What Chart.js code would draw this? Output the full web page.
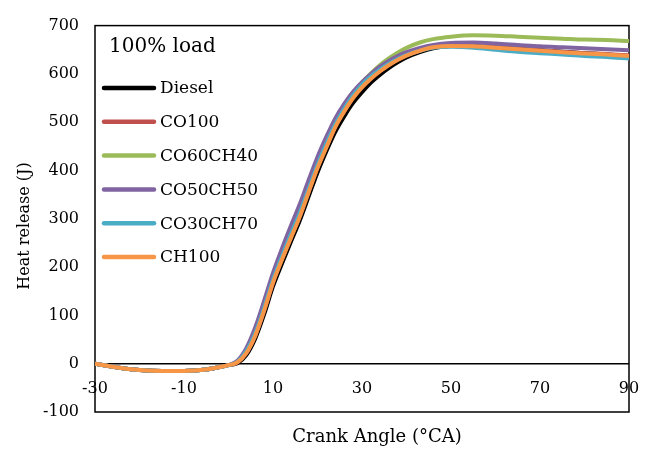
<!DOCTYPE html>
<html>
<head>
<meta charset="utf-8">
<script src="https://cdn.jsdelivr.net/npm/chart.js@4"></script>
<style>
html,body{margin:0;padding:0;background:#fff;}
#wrap{width:654px;height:449px;}
</style>
</head>
<body>
<div id="wrap"><canvas id="c" width="654" height="449"></canvas></div>
<script>
// ---- data ----
const crankAngle = [-30,-25,-20,-15,-10,-5,-2,0,2,4,6,8,10,12,14,16,18,20,22,24,26,28,30,32,34,36,38,40,43,46,50,55,60,65,70,75,80,85,90];

const diesel   = [0,-8,-13,-15,-15,-12,-7,-3,1,18,52,102,160,207,252,296,346,396,440,480,512,540,562,582,598,612,624,634,645,653,658,658,655,652,649,646,643,640,637];
const co100    = [0,-8,-13,-15,-15,-12,-7,-3,3,22,58,110,168,216,261,305,356,406,449,491,523,551,573,591,606,619,630,639,649,656,659,658,655,652,649,646,643,641,638];
const co60ch40 = [0,-8,-13,-15,-15,-12,-7,-3,4,26,64,118,176,224,270,316,366,416,460,500,533,560,582,601,618,632,644,654,665,672,677,680,679,677,675,673,671,670,668];
const co50ch50 = [0,-8,-13,-15,-15,-12,-7,-3,6,32,75,130,188,238,285,330,380,428,470,508,538,563,583,600,615,627,637,645,654,660,664,665,663,660,657,655,653,651,649];
const co30ch70 = [0,-8,-13,-15,-15,-12,-7,-3,4,26,63,116,174,222,268,312,362,412,456,496,528,556,578,595,609,621,631,639,648,654,656,654,650,646,643,640,637,635,632];
const ch100    = [0,-8,-13,-15,-15,-12,-7,-3,3,22,58,110,168,215,260,304,355,405,448,490,522,550,572,590,605,618,629,638,648,655,658,657,654,651,648,645,642,640,637];

const seriesNames  = ['Diesel','CO100','CO60CH40','CO50CH50','CO30CH70','CH100'];
const seriesValues = [diesel, co100, co60ch40, co50ch50, co30ch70, ch100];
const seriesColors = ['#000000','#C0504D','#9BBB59','#8064A2','#4BACC6','#F79646'];

const xTickValues = [-30,-10,10,30,50,70,90];
const yTickValues = [-100,0,100,200,300,400,500,600,700];
const loadLabel = '100% load';
const xTitle = 'Crank Angle (°CA)';
const yTitle = 'Heat release (J)';

const FONT = 'DejaVu Serif';

const datasets = seriesNames.map((name, i) => ({
  label: name,
  data: crankAngle.map((a, k) => ({x: a, y: seriesValues[i][k]})),
  borderColor: seriesColors[i],
  backgroundColor: seriesColors[i],
  borderWidth: 4,
  pointRadius: 0,
  fill: false,
  cubicInterpolationMode: 'monotone',
  order: seriesNames.length - i
}));

const boxPlugin = {
  id: 'box',
  beforeDatasetsDraw(chart) {
    const {ctx, chartArea: a} = chart;
    ctx.save();
    ctx.strokeStyle = '#000';
    ctx.lineWidth = 1.5;
    ctx.strokeRect(a.left, a.top, a.right - a.left, a.bottom - a.top);
    ctx.restore();
  }
};

const legendPlugin = {
  id: 'innerLegend',
  afterDatasetsDraw(chart) {
    const {ctx} = chart;
    ctx.save();
    ctx.fillStyle = '#000';
    ctx.textBaseline = 'middle';
    ctx.textAlign = 'left';
    ctx.font = '20px "' + FONT + '"';
    ctx.fillText(loadLabel, 109, 47);
    ctx.font = '17px "' + FONT + '"';
    chart.data.datasets.forEach((ds, i) => {
      const y = 88 + i * 33.8;
      ctx.strokeStyle = ds.borderColor;
      ctx.lineWidth = 4.5;
      ctx.lineCap = 'round';
      ctx.beginPath();
      ctx.moveTo(104, y);
      ctx.lineTo(154, y);
      ctx.stroke();
      ctx.fillText(ds.label, 160, y + 1);
    });
    ctx.restore();
  }
};

const axisTitlePlugin = {
  id: 'axisTitles',
  afterDraw(chart) {
    const {ctx} = chart;
    ctx.save();
    ctx.fillStyle = '#000';
    ctx.textAlign = 'center';
    ctx.textBaseline = 'middle';
    ctx.font = '18px "' + FONT + '"';
    ctx.fillText(xTitle, 377, 437);
    ctx.translate(25, 226);
    ctx.rotate(-Math.PI / 2);
    ctx.font = '16px "' + FONT + '"';
    ctx.fillText(yTitle, 0, 0);
    ctx.restore();
  }
};

new Chart(document.getElementById('c'), {
  type: 'line',
  data: {datasets},
  options: {
    responsive: false,
    devicePixelRatio: 1,
    animation: false,
    layout: {padding: {left: 0, right: 25, top: 18, bottom: 0}},
    plugins: {legend: {display: false}, tooltip: {enabled: false}},
    scales: {
      x: {
        type: 'linear',
        min: -30, max: 90,
        afterBuildTicks(scale) { scale.ticks = xTickValues.map(v => ({value: v})); },
        afterFit(scale) { scale.height = 37; },
        grid: {display: false, drawTicks: false},
        border: {display: false},
        ticks: {
          color: '#000',
          font: {family: FONT, size: 16},
          mirror: true,
          padding: 14,
          maxRotation: 0,
          autoSkip: false
        },
        title: {display: false, text: xTitle}
      },
      y: {
        type: 'linear',
        min: -100, max: 700,
        afterBuildTicks(scale) { scale.ticks = yTickValues.map(v => ({value: v})); },
        afterFit(scale) { scale.width = 95; },
        grid: {
          drawTicks: false,
          color: c => (c.tick && c.tick.value === 0) ? '#000' : 'rgba(0,0,0,0)',
          lineWidth: 1.5
        },
        border: {display: false},
        ticks: {
          color: '#000',
          font: {family: FONT, size: 16},
          padding: 16
        },
        title: {display: false, text: yTitle}
      }
    }
  },
  plugins: [boxPlugin, legendPlugin, axisTitlePlugin]
});
</script>
</body>
</html>
